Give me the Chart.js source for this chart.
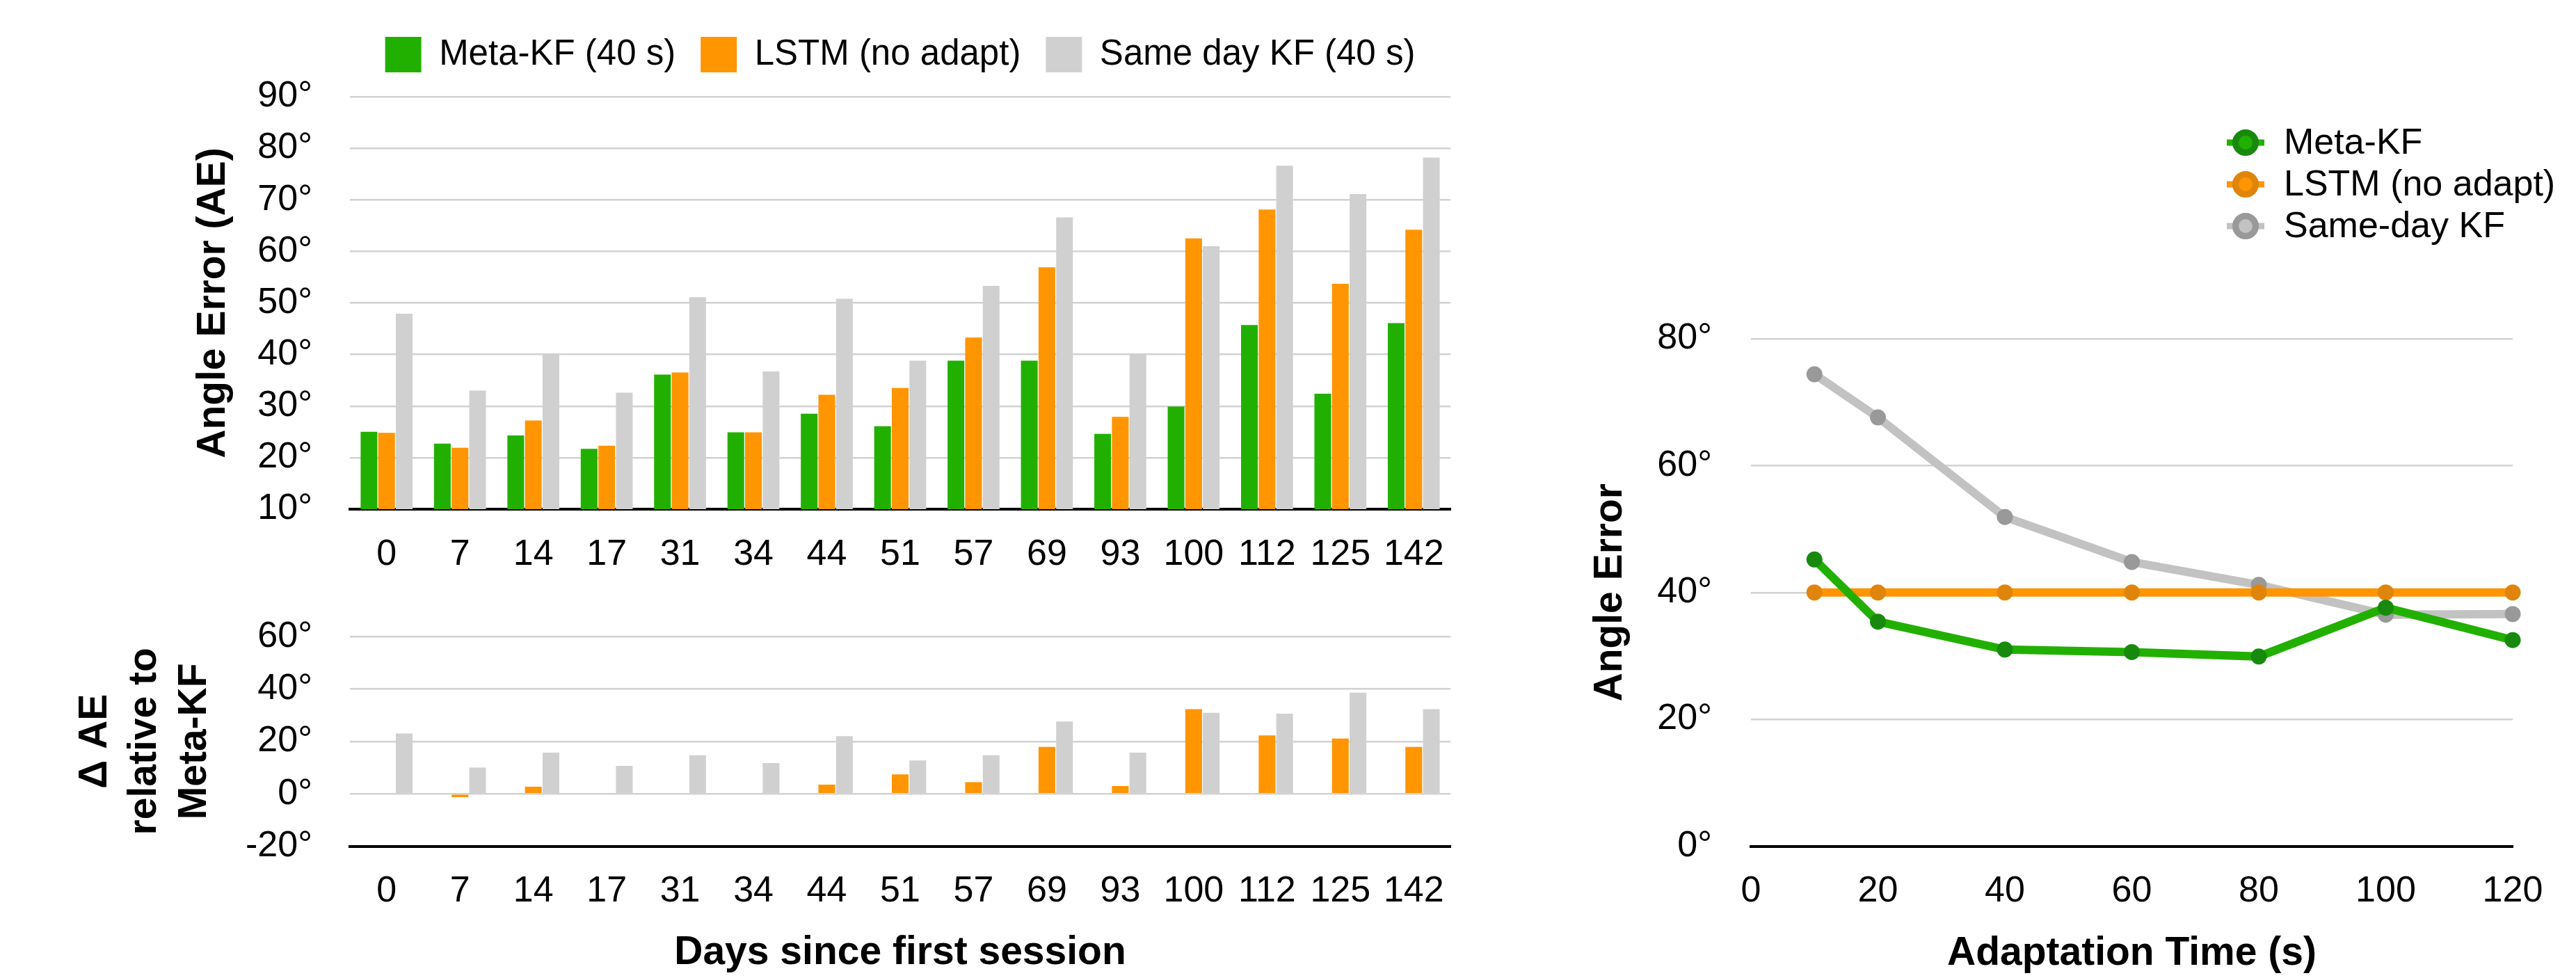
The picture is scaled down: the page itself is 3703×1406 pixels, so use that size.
<!DOCTYPE html>
<html lang="en">
<head>
<meta charset="utf-8">
<title>Angle error across sessions</title>
<script src="https://cdn.jsdelivr.net/npm/chart.js@4.4.1/dist/chart.umd.min.js"></script>
<style>
  html, body { margin: 0; padding: 0; background: #fff; }
  body { width: 3703px; height: 1406px; position: relative; overflow: hidden; }
  canvas { position: absolute; }
  #aeChart { left: 0; top: 0; }
  #deltaChart { left: 0; top: 830px; }
  #adaptChart { left: 2200px; top: 0; }
</style>
</head>
<body>
<canvas id="aeChart" width="2130" height="830"></canvas>
<canvas id="deltaChart" width="2130" height="576"></canvas>
<canvas id="adaptChart" width="1503" height="1406"></canvas>
<script>
// --- Data ---
const days = ['0', '7', '14', '17', '31', '34', '44', '51', '57', '69', '93', '100', '112', '125', '142'];

// angle error per session (degrees)
const metaKF = [25.0, 22.7, 24.3, 21.7, 36.1, 24.9, 28.5, 26.1, 38.8, 38.8, 24.6, 29.9, 45.7, 32.4, 46.1];
const lstmNoAdapt = [24.8, 21.9, 27.2, 22.3, 36.5, 24.9, 32.2, 33.5, 43.3, 56.9, 27.9, 62.5, 68.1, 53.7, 64.2];
const sameDayKF = [47.9, 33.0, 40.0, 32.6, 51.1, 36.7, 50.8, 38.8, 53.3, 66.6, 40.2, 61.0, 76.6, 71.1, 78.2];

// difference to Meta-KF (degrees)
const deltaMeta = [0, 0, 0, 0, 0, 0, 0, 0, 0, 0, 0, 0, 0, 0, 0];
const deltaLstm = [0, -1.3, 2.7, 0, 0, 0, 3.5, 7.4, 4.4, 17.9, 3.0, 32.3, 22.3, 21.1, 17.9];
const deltaSameDay = [23.0, 10.0, 15.7, 10.7, 14.7, 11.7, 22.0, 12.7, 14.7, 27.6, 15.7, 30.9, 30.6, 38.6, 32.3];

// angle error vs adaptation time
const adaptTime = [10, 20, 40, 60, 80, 100, 120];
const metaCurve = [45.2, 35.4, 31.0, 30.6, 29.9, 37.6, 32.5];
const lstmCurve = [40, 40, 40, 40, 40, 40, 40];
const sameDayCurve = [74.4, 67.6, 51.9, 44.8, 41.2, 36.5, 36.6];

const aeTicks = { min: 10, max: 90, step: 10 };
const deltaTicks = { min: -20, max: 60, step: 20 };
const adaptYTicks = { min: 0, max: 80, step: 20 };
const adaptXTicks = { min: 0, max: 120, step: 20 };

// --- Styling ---
const GREEN = '#22b000';
const ORANGE = '#ff9500';
const GRAY = '#d0d0d0';
const GRID = '#d2d2d2';
const TICK_FONT = { size: 52 };
const TITLE_FONT = { size: 57, weight: 'bold' };

Chart.defaults.font.family = "'Liberation Sans', Arial, Helvetica, sans-serif";
Chart.defaults.color = '#000';
Chart.defaults.animation = false;

const deg = v => v + '°';

// keep the legend on one row and push the plot down a bit below it
const legendGap = {
    id: 'legendGap',
    beforeInit(chart) {
        const fit = chart.legend.fit;
        chart.legend.fit = function () {
            this.maxWidth += 300;
            fit.bind(chart.legend)();
            this.maxWidth -= 300;
            this.height += 25;
        };
    }
};

// legend of the right panel: line stub + ringed marker
const lineLegend = {
    id: 'lineLegend',
    afterDraw(chart) {
        const ctx = chart.ctx;
        ctx.save();
        chart.data.datasets.forEach((ds, i) => {
            const x = 1028;
            const y = 205 + i * 60;
            ctx.strokeStyle = ds.borderColor;
            ctx.lineWidth = 9;
            ctx.beginPath();
            ctx.moveTo(x - 27, y);
            ctx.lineTo(x + 27, y);
            ctx.stroke();
            ctx.beginPath();
            ctx.arc(x, y, 14.5, 0, Math.PI * 2);
            ctx.fillStyle = ds.borderColor;
            ctx.fill();
            ctx.lineWidth = 9;
            ctx.strokeStyle = ds.pointBackgroundColor;
            ctx.stroke();
            ctx.fillStyle = '#000';
            ctx.font = "52px 'Liberation Sans', Arial, sans-serif";
            ctx.textBaseline = 'middle';
            ctx.fillText(ds.label, 1083, y + 2);
        });
        ctx.restore();
    }
};

function barDatasets(meta, lstm, same) {
    const common = { barPercentage: 0.95, categoryPercentage: 0.72, borderWidth: 0 };
    return [
        { label: 'Meta-KF (40 s)', data: meta, backgroundColor: GREEN, ...common },
        { label: 'LSTM (no adapt)', data: lstm, backgroundColor: ORANGE, ...common },
        { label: 'Same day KF (40 s)', data: same, backgroundColor: GRAY, ...common }
    ];
}

function yScale(range, width, title, titlePad) {
    return {
        min: range.min,
        max: range.max,
        ticks: { stepSize: range.step, padding: 54, callback: deg, font: TICK_FONT },
        grid: { color: GRID, lineWidth: 2.5, drawTicks: false },
        border: { display: false },
        title: { display: true, text: title, font: TITLE_FONT, padding: titlePad },
        afterFit: s => { s.width = width; }
    };
}

function renderAngleError() {
    new Chart(document.getElementById('aeChart'), {
        type: 'bar',
        data: { labels: days, datasets: barDatasets(metaKF, lstmNoAdapt, sameDayKF) },
        options: {
            responsive: false,
            layout: { padding: { top: 17, right: 45, left: 0, bottom: 0 } },
            plugins: {
                legend: {
                    position: 'top',
                    fullSize: false,
                    labels: { boxWidth: 52, boxHeight: 51, padding: 36, font: { size: 51 }, color: '#000' }
                },
                tooltip: { enabled: false }
            },
            scales: {
                x: {
                    grid: { display: false },
                    border: { color: '#000', width: 4 },
                    ticks: { font: TICK_FONT, padding: 26, maxRotation: 0, autoSkip: false },
                    afterFit: s => { s.height = 98; }
                },
                y: yScale(aeTicks, 503, 'Angle Error (AE)', { top: 273, bottom: 0 })
            }
        },
        plugins: [legendGap]
    });
}

function renderDelta() {
    const y = yScale(deltaTicks, 503, ['Δ AE', 'relative to', 'Meta-KF'], { top: 101, bottom: 0 });
    y.title.font = { size: 57, weight: 'bold', lineHeight: 1.26 };
    new Chart(document.getElementById('deltaChart'), {
        type: 'bar',
        data: { labels: days, datasets: barDatasets(deltaMeta, deltaLstm, deltaSameDay) },
        options: {
            responsive: false,
            layout: { padding: { top: 47, right: 45, left: 0, bottom: 0 } },
            plugins: { legend: { display: false }, tooltip: { enabled: false } },
            scales: {
                x: {
                    grid: { display: false },
                    border: { color: '#000', width: 4 },
                    ticks: { font: TICK_FONT, padding: 26, maxRotation: 0, autoSkip: false },
                    title: { display: true, text: 'Days since first session', font: TITLE_FONT, padding: { top: 0, bottom: 2 } },
                    afterFit: s => { s.height = 189.5; }
                },
                y: y
            }
        }
    });
}

function renderAdaptation() {
    const toPoints = vals => adaptTime.map((t, i) => ({ x: t, y: vals[i] }));
    const line = (label, vals, color, pointColor) => ({
        label: label,
        data: toPoints(vals),
        borderColor: color,
        backgroundColor: color,
        borderWidth: 12,
        pointRadius: 11.5,
        pointBorderWidth: 0,
        pointBackgroundColor: pointColor,
        tension: 0,
        clip: false
    });
    const y = yScale(adaptYTicks, 317, 'Angle Error', { top: 81, bottom: 0 });
    y.ticks.padding = 56;
    new Chart(document.getElementById('adaptChart'), {
        type: 'line',
        data: {
            datasets: [
                line('Meta-KF', metaCurve, GREEN, '#178a0e'),
                line('LSTM (no adapt)', lstmCurve, ORANGE, '#e0850c'),
                line('Same-day KF', sameDayCurve, '#c2c2c2', '#999999')
            ]
        },
        options: {
            responsive: false,
            layout: { padding: { top: 487, right: 91, left: 0, bottom: 0 } },
            plugins: { legend: { display: false }, tooltip: { enabled: false } },
            scales: {
                x: {
                    type: 'linear',
                    min: adaptXTicks.min,
                    max: adaptXTicks.max,
                    ticks: { stepSize: adaptXTicks.step, padding: 26, font: TICK_FONT, maxRotation: 0 },
                    grid: { display: false },
                    border: { color: '#000', width: 4 },
                    title: { display: true, text: 'Adaptation Time (s)', font: TITLE_FONT, padding: { top: 0, bottom: 1 } },
                    afterFit: s => { s.height = 189.5; }
                },
                y: y
            }
        },
        plugins: [lineLegend]
    });
}

renderAngleError();
renderDelta();
renderAdaptation();
</script>
</body>
</html>
